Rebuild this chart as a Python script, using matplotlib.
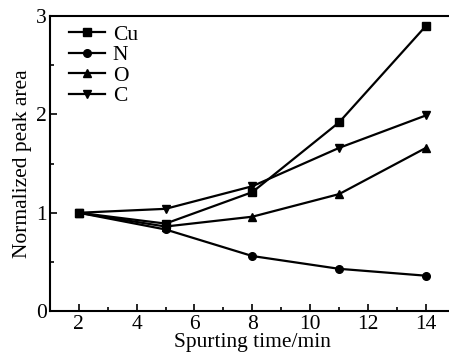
import matplotlib
matplotlib.use("Agg")
import matplotlib.pyplot as plt
from matplotlib.ticker import MultipleLocator

plt.rcParams['font.family'] = ['Liberation Serif', 'DejaVu Serif']

# ---- donnees
time_min = [2, 5, 8, 11, 14]
cu = [1.0, 0.89, 1.21, 1.92, 2.90]
n = [1.0, 0.83, 0.56, 0.43, 0.36]
o = [1.0, 0.86, 0.96, 1.19, 1.66]
c = [1.0, 1.04, 1.27, 1.66, 1.99]

fig = plt.figure(figsize=(4.49, 3.58), dpi=100)
ax = fig.add_axes([0.111, 0.131, 0.902, 0.824])

ax.plot(time_min, cu, color='black', lw=1.6, marker='s', ms=5.5, label='Cu')
ax.plot(time_min, n, color='black', lw=1.6, marker='o', ms=5.5, label='N')
ax.plot(time_min, o, color='black', lw=1.6, marker='^', ms=6, label='O')
ax.plot(time_min, c, color='black', lw=1.6, marker='v', ms=6, label='C')

ax.set_xlim(1, 15)
ax.set_ylim(0, 3)
ax.xaxis.set_major_locator(MultipleLocator(2))
ax.xaxis.set_minor_locator(MultipleLocator(1))
ax.yaxis.set_major_locator(MultipleLocator(1))
ax.yaxis.set_minor_locator(MultipleLocator(0.5))
ax.tick_params(which='both', direction='in', labelsize=15.5, width=1.2)
ax.tick_params(which='major', length=5)
ax.tick_params(which='minor', length=3)
ax.tick_params(axis='x', pad=3)
ax.tick_params(axis='y', pad=2)
for s in ax.spines.values():
    s.set_linewidth(1.5)

ax.set_xlabel('Spurting time/min', fontsize=15.5, labelpad=-1)
ax.set_ylabel('Normalized peak area', fontsize=15.5, labelpad=3)

ax.legend(loc='upper left', frameon=False, fontsize=15.5, handlelength=1.7,
          handletextpad=0.35, labelspacing=0.02, borderaxespad=0.0,
          bbox_to_anchor=(0.025, 1.0))

fig.savefig('out.png', dpi=100)
